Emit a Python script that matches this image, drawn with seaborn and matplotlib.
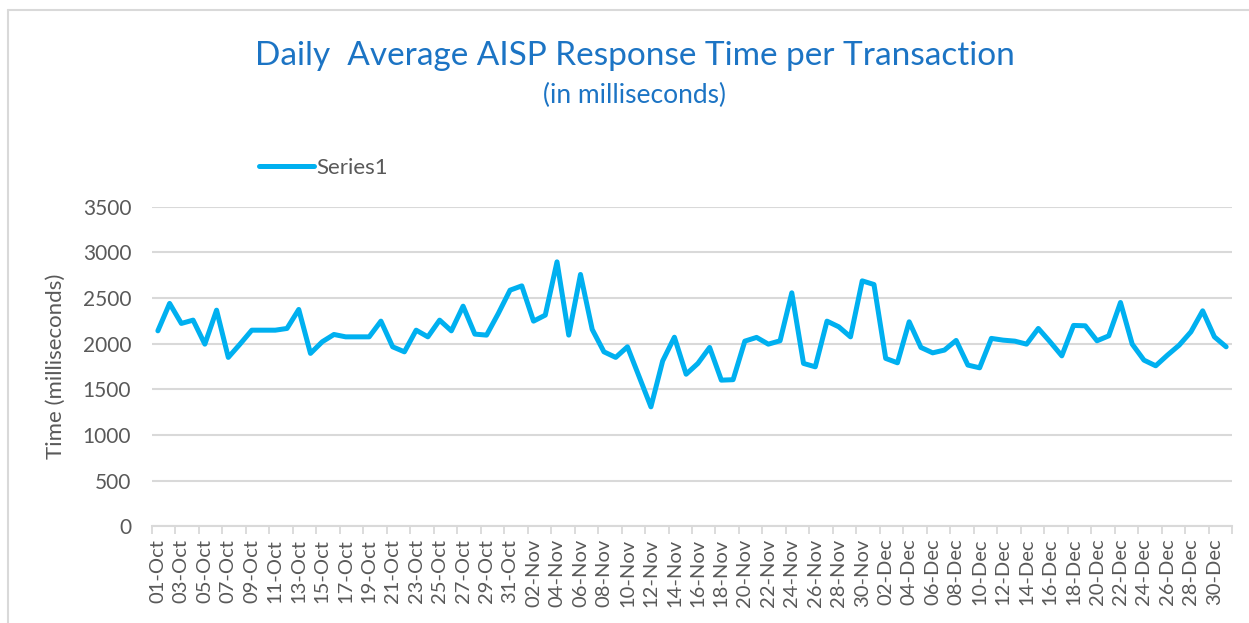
import pandas as pd
import numpy as np
import matplotlib
matplotlib.use("Agg")
import matplotlib.pyplot as plt
import seaborn as sns

# ----------------------------------------------------------------------
# data
# ----------------------------------------------------------------------
dates = pd.date_range("2023-10-01", "2023-12-31", freq="D")
day_labels = [d.strftime("%d-%b") for d in dates]

oct_ms = [2140, 2440, 2221, 2257, 1994, 2366, 1849, 1995, 2147, 2147,
          2147, 2166, 2374, 1893, 2020, 2100, 2074, 2074, 2074, 2246,
          1965, 1910, 2147, 2074, 2257, 2140, 2410, 2104, 2093, 2330,
          2585]
nov_ms = [2632, 2246, 2312, 2895, 2093, 2757, 2155, 1910, 1849, 1965,
          1637, 1308, 1810, 2070, 1665, 1783, 1958, 1600, 1605, 2027,
          2068, 1994, 2031, 2556, 1783, 1746, 2246, 2184, 2074, 2687]
dec_ms = [2647, 1838, 1790, 2239, 1958, 1899, 1929, 2035, 1765, 1735,
          2057, 2038, 2027, 1994, 2166, 2020, 1866, 2199, 2195, 2031,
          2085, 2450, 1994, 1819, 1757, 1874, 1983, 2129, 2359, 2074,
          1965]

response_ms = oct_ms + nov_ms + dec_ms

df = pd.DataFrame({"idx": np.arange(len(dates)),
                   "day": day_labels,
                   "Series1": response_ms})

# ----------------------------------------------------------------------
# style
# ----------------------------------------------------------------------
sns.set_theme(style="white")
plt.rcParams["font.family"] = ["Lato", "DejaVu Sans"]

grey_txt = "#595959"
grid_col = "#D9D9D9"
line_col = "#00B0F0"
title_col = "#1C74C4"

fig = plt.figure(figsize=(12.49, 6.23), dpi=100)
ax = fig.add_axes([0.1217, 0.1552, 0.8647, 0.5132])

sns.lineplot(data=df, x="idx", y="Series1", ax=ax, color=line_col,
             linewidth=3.6, label="Series1")

ax.set_xlim(-0.5, len(dates) - 0.5)
ax.set_ylim(0, 3500)
ax.set_yticks(np.arange(0, 3501, 500))
ax.yaxis.grid(True, color=grid_col, linewidth=1.5)
ax.set_axisbelow(True)

# x labels every 2 days, tick marks on the category edges
ax.set_xticks(df["idx"][::2])
ax.set_xticklabels(df["day"][::2], rotation=90, fontsize=14.5, color=grey_txt)
ax.set_xticks(np.arange(-0.5, len(dates), 2), minor=True)
ax.tick_params(axis="x", which="major", length=0, pad=9)
ax.tick_params(axis="x", which="minor", length=6, width=1.3, color=grid_col,
               direction="out", bottom=True)
ax.tick_params(axis="y", length=0, labelsize=15, labelcolor=grey_txt, pad=15)

for s in ["top", "right", "left"]:
    ax.spines[s].set_visible(False)
ax.spines["bottom"].set_color(grid_col)
ax.spines["bottom"].set_linewidth(1.5)

ax.set_xlabel("")
ax.set_ylabel("Time (milliseconds)", fontsize=16, color=grey_txt, labelpad=12)

fig.text(0.508, 0.91, "Daily  Average AISP Response Time per Transaction",
         ha="center", va="center", fontsize=24, color=title_col)
fig.text(0.508, 0.846, "(in milliseconds)", ha="center", va="center",
         fontsize=19, color=title_col)

ax.legend(loc="center left", bbox_to_anchor=(0.191, 0.730),
          bbox_transform=fig.transFigure, frameon=False, fontsize=16,
          handlelength=2.5, handletextpad=0.1, labelcolor=grey_txt)

# chart-area border (top and left edges visible in the screenshot)
fig.add_artist(plt.Line2D([8 / 1249, 1], [1 - 10 / 623, 1 - 10 / 623],
                          transform=fig.transFigure, color=grid_col, lw=1.5))
fig.add_artist(plt.Line2D([8 / 1249, 8 / 1249], [0, 1 - 10 / 623],
                          transform=fig.transFigure, color=grid_col, lw=1.5))

fig.savefig("out.png", dpi=100)
